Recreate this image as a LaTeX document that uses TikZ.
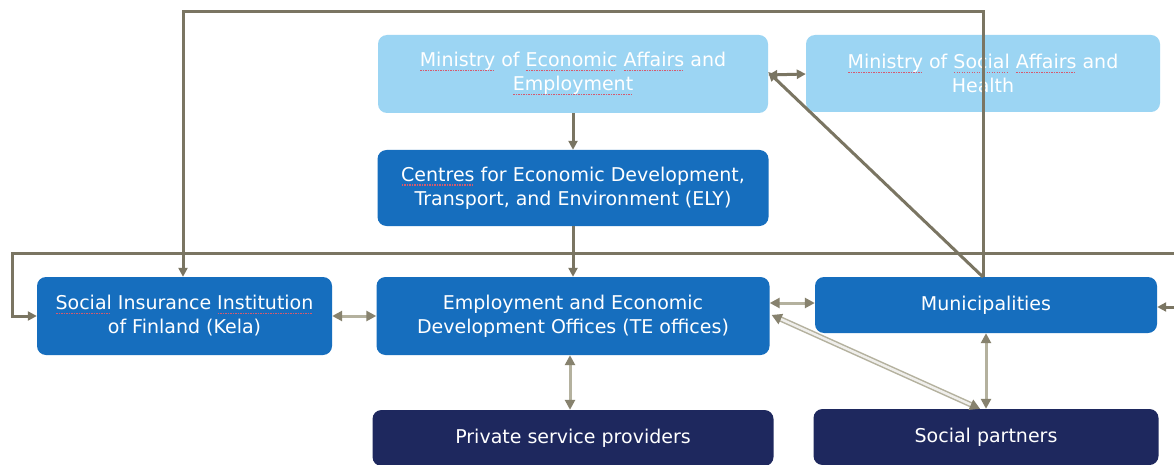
\documentclass[tikz,border=0pt]{standalone}
\usepackage{fontspec}
\setmainfont{DejaVu Sans}
\usetikzlibrary{arrows.meta}
\definecolor{lightbox}{RGB}{156,213,243}
\definecolor{midbox}{RGB}{22,110,190}
\definecolor{navybox}{RGB}{30,40,94}
\definecolor{linecol}{RGB}{122,117,98}
\definecolor{lightline}{RGB}{180,177,158}
\definecolor{headcol}{RGB}{135,130,110}
\definecolor{spellred}{RGB}{214,90,110}
\newcommand{\spl}[1]{\setbox0\hbox{#1}\rlap{\copy0}\raisebox{-4.5pt}{\textcolor{spellred}{\hbox to \wd0{\leaders\hbox to 2.5pt{\hss\vrule width 1.4pt height 1.3pt\hss}\hfil}}}}
\tikzset{
  box/.style={rounded corners=9pt, text=white, align=center, inner sep=0pt,
    font=\fontsize{19}{24}\selectfont},
  lbox/.style={box, fill=lightbox},
  mbox/.style={box, fill=midbox},
  nbox/.style={box, fill=navybox},
  conn/.style={draw=linecol, line width=3pt, -{Triangle[length=9pt,width=9pt]}},
  biconn/.style={draw=linecol, line width=3pt, {Triangle[length=9pt,width=9pt]}-{Triangle[length=9pt,width=9pt]}},
  lightbi/.style={draw=lightline, line width=3pt,
    {Triangle[length=10pt,width=10pt,color=headcol]}-{Triangle[length=10pt,width=10pt,color=headcol]}},
  hatchbi/.style={draw=lightline, double=white!80!lightline, double distance=2.5pt, line width=1.5pt,
    {Triangle[length=10pt,width=11pt,color=headcol]}-{Triangle[length=10pt,width=11pt,color=headcol]}}
}
\begin{document}
\begin{tikzpicture}[x=1pt,y=-1pt]
\useasboundingbox[fill=white] (0,0) rectangle (1174,465);
% nodes
\node[lbox, minimum width=390pt, minimum height=78pt] (meae) at (573,74)
  {\spl{Ministry} of \spl{Economic} \spl{Affairs} and\\\spl{Employment}};
\node[lbox, minimum width=354pt, minimum height=77pt] (msa) at (983,73.5)
  {\spl{Ministry} of \spl{Social} \spl{Affairs} and\\Health};
\node[mbox, minimum width=391pt, minimum height=76pt] (ely) at (573,188)
  {\spl{Centres} for Economic Development,\\Transport, and Environment (ELY)};
\node[mbox, minimum width=295pt, minimum height=78pt] (kela) at (184.5,316)
  {\spl{Social} Insurance \spl{Institution}\\of Finland (Kela)};
\node[mbox, minimum width=393pt, minimum height=78pt] (te) at (573,316)
  {Employment and Economic\\Development Offices (TE offices)};
\node[mbox, minimum width=342pt, minimum height=56pt] (muni) at (986,305)
  {Municipalities};
\node[nbox, minimum width=401pt, minimum height=56pt] (priv) at (573,438)
  {Private service providers};
\node[nbox, minimum width=345pt, minimum height=56pt] (soc) at (986,437)
  {Social partners};
% helper coordinates
\coordinate (topR) at (983,12);
\coordinate (topL) at (183,12);
\coordinate (munitop) at (983,277);
\coordinate (loopL) at (12,253);
\coordinate (loopR) at (1174,253);
\coordinate (loopLd) at (12,316);
\coordinate (rightin) at (1174,307);
% connectors
\draw[conn] (meae.south) -- (ely.north);
\draw[conn] (ely.south) -- (te.north);
\draw[conn] (munitop) -- (topR) -- (topL) -- (topL |- kela.north);
\draw[conn] (munitop) -- ([yshift=2pt]meae.east);
\draw[biconn] ([yshift=-1pt]meae.east) -- ([yshift=-0.5pt]msa.west);
\draw[conn] (loopR) -- (loopL) -- (loopLd) -- (kela.west);
\draw[conn] (rightin) -- (muni.east |- rightin);
\draw[lightbi] (kela.east) -- (te.west);
\draw[lightbi] (te.east |- 0,303) -- (muni.west |- 0,303);
\draw[lightbi] ([xshift=-3pt]te.south) -- ([xshift=-3pt]priv.north);
\draw[lightbi] (muni.south) -- (soc.north);
\draw[hatchbi] ([xshift=2pt,yshift=1pt]te.east) -- ([xshift=-6pt]soc.north);
\end{tikzpicture}
\end{document}
